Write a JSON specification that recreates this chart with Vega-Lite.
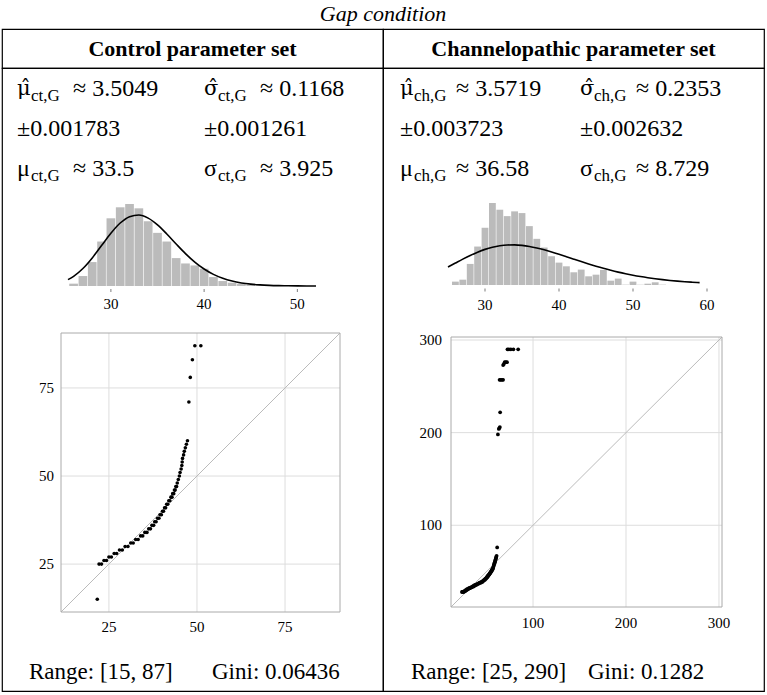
{
  "$schema": "https://vega.github.io/schema/vega-lite/v6.json",
  "padding": {"left": 1, "top": 3, "right": 0, "bottom": 0},
  "background": "white",
  "title": {"text": "Gap condition", "font": "Liberation Serif", "fontStyle": "italic", "fontWeight": "normal", "fontSize": 22, "color": "black", "anchor": "middle", "offset": 2},
  "config": {
    "font": "Liberation Serif",
    "title": {"font": "Liberation Serif"},
    "view": {"stroke": "black", "strokeWidth": 1.2},
    "text": {"font": "Liberation Serif", "color": "black"}
  },
  "datasets": {
    "statsL": [
      {"col": 0, "row": 0, "sym": "", "symh": "\u03bc\u0302", "sub": "ct,G", "rest": "\u2248 3.5049"},
      {"col": 1, "row": 0, "sym": "", "symh": "\u03c3\u0302", "sub": "ct,G", "rest": "\u2248 0.1168"},
      {"col": 0, "row": 1, "sym": "\u00b10.001783", "symh": "", "sub": "", "rest": ""},
      {"col": 1, "row": 1, "sym": "\u00b10.001261", "symh": "", "sub": "", "rest": ""},
      {"col": 0, "row": 2, "sym": "\u03bc", "symh": "", "sub": "ct,G", "rest": "\u2248 33.5"},
      {"col": 1, "row": 2, "sym": "\u03c3", "symh": "", "sub": "ct,G", "rest": "\u2248 3.925"}
    ],
    "statsR": [
      {"col": 0, "row": 0, "sym": "", "symh": "\u03bc\u0302", "sub": "ch,G", "rest": "\u2248 3.5719"},
      {"col": 1, "row": 0, "sym": "", "symh": "\u03c3\u0302", "sub": "ch,G", "rest": "\u2248 0.2353"},
      {"col": 0, "row": 1, "sym": "\u00b10.003723", "symh": "", "sub": "", "rest": ""},
      {"col": 1, "row": 1, "sym": "\u00b10.002632", "symh": "", "sub": "", "rest": ""},
      {"col": 0, "row": 2, "sym": "\u03bc", "symh": "", "sub": "ch,G", "rest": "\u2248 36.58"},
      {"col": 1, "row": 2, "sym": "\u03c3", "symh": "", "sub": "ch,G", "rest": "\u2248 8.729"}
    ],
    "footL": [
      {"col": 0, "row": 0, "t": "Range: [15, 87]"},
      {"col": 1, "row": 0, "t": "Gini: 0.06436"}
    ],
    "footR": [
      {"col": 0, "row": 0, "t": "Range: [25, 290]"},
      {"col": 1, "row": 0, "t": "Gini: 0.1282"}
    ],
    "tickHL": [{"v": 30}, {"v": 40}, {"v": 50}],
    "tickHR": [{"v": 30}, {"v": 40}, {"v": 50}, {"v": 60}],
    "histL": [
      {"v": 26, "d": 0.0034}, {"v": 27, "d": 0.0145}, {"v": 28, "d": 0.0348}, {"v": 29, "d": 0.0647},
      {"v": 30, "d": 0.0985}, {"v": 31, "d": 0.1145}, {"v": 32, "d": 0.1193}, {"v": 33, "d": 0.1130},
      {"v": 34, "d": 0.0942}, {"v": 35, "d": 0.0773}, {"v": 36, "d": 0.0647}, {"v": 37, "d": 0.0406},
      {"v": 38, "d": 0.0328}, {"v": 39, "d": 0.0299}, {"v": 40, "d": 0.0251}, {"v": 41, "d": 0.0130},
      {"v": 42, "d": 0.0072}, {"v": 43, "d": 0.0048}, {"v": 44, "d": 0.0034}, {"v": 45, "d": 0.0019},
      {"v": 46, "d": 0.0010}, {"v": 47, "d": 0.0005}
    ],
    "curveL": [
      {"v": 25.4, "d": 0.00927}, {"v": 26, "d": 0.01409}, {"v": 27, "d": 0.02549}, {"v": 28, "d": 0.04088},
      {"v": 29, "d": 0.05884}, {"v": 30, "d": 0.07677}, {"v": 31, "d": 0.09164}, {"v": 32, "d": 0.10090},
      {"v": 33, "d": 0.10324}, {"v": 34, "d": 0.09878}, {"v": 35, "d": 0.08890}, {"v": 36, "d": 0.07564},
      {"v": 37, "d": 0.06115}, {"v": 38, "d": 0.04715}, {"v": 39, "d": 0.03481}, {"v": 40, "d": 0.02470},
      {"v": 41, "d": 0.01689}, {"v": 42, "d": 0.01116}, {"v": 43, "d": 0.00715}, {"v": 44, "d": 0.00445},
      {"v": 45, "d": 0.00270}, {"v": 46, "d": 0.00159}, {"v": 47, "d": 0.00092}, {"v": 48, "d": 0.00052},
      {"v": 49, "d": 0.00029}, {"v": 50, "d": 0.00016}, {"v": 51, "d": 0.00008}, {"v": 52, "d": 0.00004}
    ],
    "histR": [
      {"v": 26, "d": 0.0041}, {"v": 27, "d": 0.0065}, {"v": 28, "d": 0.0257}, {"v": 29, "d": 0.0469},
      {"v": 30, "d": 0.0698}, {"v": 31, "d": 0.1000}, {"v": 32, "d": 0.0918}, {"v": 33, "d": 0.0840},
      {"v": 34, "d": 0.0898}, {"v": 35, "d": 0.0877}, {"v": 36, "d": 0.0718}, {"v": 37, "d": 0.0563},
      {"v": 38, "d": 0.0457}, {"v": 39, "d": 0.0351}, {"v": 40, "d": 0.0273}, {"v": 41, "d": 0.0228},
      {"v": 42, "d": 0.0155}, {"v": 43, "d": 0.0188}, {"v": 44, "d": 0.0106}, {"v": 45, "d": 0.0126},
      {"v": 46, "d": 0.0184}, {"v": 47, "d": 0.0053}, {"v": 48, "d": 0.0078}, {"v": 49, "d": 0.0004},
      {"v": 50, "d": 0.0041}, {"v": 51, "d": 0.0004}, {"v": 52, "d": 0.0016}, {"v": 53, "d": 0.0033},
      {"v": 54, "d": 0.0004}
    ],
    "curveR": [
      {"v": 25, "d": 0.02201}, {"v": 26, "d": 0.02680}, {"v": 27, "d": 0.03155}, {"v": 28, "d": 0.03604},
      {"v": 29, "d": 0.04006}, {"v": 30, "d": 0.04344}, {"v": 31, "d": 0.04606}, {"v": 32, "d": 0.04786},
      {"v": 33, "d": 0.04881}, {"v": 34, "d": 0.04894}, {"v": 35, "d": 0.04832}, {"v": 36, "d": 0.04704},
      {"v": 37, "d": 0.04520}, {"v": 38, "d": 0.04291}, {"v": 39, "d": 0.04030}, {"v": 40, "d": 0.03746},
      {"v": 41, "d": 0.03450}, {"v": 42, "d": 0.03150}, {"v": 43, "d": 0.02853}, {"v": 44, "d": 0.02565},
      {"v": 45, "d": 0.02291}, {"v": 46, "d": 0.02033}, {"v": 47, "d": 0.01793}, {"v": 48, "d": 0.01573},
      {"v": 49, "d": 0.01373}, {"v": 50, "d": 0.01193}, {"v": 51, "d": 0.01032}, {"v": 52, "d": 0.00889},
      {"v": 53, "d": 0.00763}, {"v": 54, "d": 0.00653}, {"v": 55, "d": 0.00556}, {"v": 56, "d": 0.00473},
      {"v": 57, "d": 0.00401}, {"v": 58, "d": 0.00339}, {"v": 59, "d": 0.00286}
    ],
    "gridL": [{"g": 25}, {"g": 50}, {"g": 75}],
    "gridR": [{"g": 100}, {"g": 200}, {"g": 300}],
    "qqL": [
      {"t": 21.7, "s": 15},
      {"t": 22.2, "s": 25}, {"t": 22.9, "s": 25},
      {"t": 23.6, "s": 26}, {"t": 24.3, "s": 26},
      {"t": 25.0, "s": 27}, {"t": 25.7, "s": 27},
      {"t": 26.5, "s": 28}, {"t": 27.2, "s": 28},
      {"t": 28.0, "s": 29}, {"t": 28.8, "s": 29},
      {"t": 29.6, "s": 30}, {"t": 30.4, "s": 30},
      {"t": 31.2, "s": 31}, {"t": 31.9, "s": 31},
      {"t": 32.6, "s": 32}, {"t": 33.3, "s": 32},
      {"t": 34.0, "s": 33}, {"t": 34.6, "s": 33},
      {"t": 35.2, "s": 34}, {"t": 35.8, "s": 34},
      {"t": 36.3, "s": 35}, {"t": 36.8, "s": 35},
      {"t": 37.2, "s": 36}, {"t": 37.7, "s": 36},
      {"t": 38.0, "s": 37}, {"t": 38.4, "s": 37},
      {"t": 38.8, "s": 38}, {"t": 39.2, "s": 38},
      {"t": 39.5, "s": 39}, {"t": 39.9, "s": 39},
      {"t": 40.2, "s": 40}, {"t": 40.5, "s": 40},
      {"t": 40.8, "s": 41}, {"t": 41.1, "s": 41},
      {"t": 41.4, "s": 42}, {"t": 41.7, "s": 42},
      {"t": 42.0, "s": 43}, {"t": 42.3, "s": 43},
      {"t": 42.6, "s": 44}, {"t": 42.9, "s": 44},
      {"t": 43.1, "s": 45}, {"t": 43.4, "s": 45},
      {"t": 43.6, "s": 46}, {"t": 43.8, "s": 46},
      {"t": 44.0, "s": 47}, {"t": 44.2, "s": 47},
      {"t": 44.4, "s": 48}, {"t": 44.7, "s": 49}, {"t": 45.0, "s": 50}, {"t": 45.2, "s": 51},
      {"t": 45.5, "s": 52}, {"t": 45.7, "s": 53}, {"t": 45.8, "s": 54}, {"t": 45.9, "s": 55},
      {"t": 46.2, "s": 56}, {"t": 46.4, "s": 57}, {"t": 46.7, "s": 58}, {"t": 47.0, "s": 59},
      {"t": 47.3, "s": 60}, {"t": 47.7, "s": 71}, {"t": 48.1, "s": 78}, {"t": 48.7, "s": 83},
      {"t": 49.4, "s": 87}, {"t": 51.1, "s": 87}
    ],
    "qqR": [
      {"t": 23.5, "s": 28}, {"t": 24.2, "s": 28}, {"t": 24.9, "s": 28}, {"t": 25.5, "s": 28},
      {"t": 26.0, "s": 29}, {"t": 26.6, "s": 29}, {"t": 27.2, "s": 29},
      {"t": 27.5, "s": 30}, {"t": 28.1, "s": 30}, {"t": 28.7, "s": 30},
      {"t": 29.0, "s": 31}, {"t": 29.6, "s": 31}, {"t": 30.2, "s": 31},
      {"t": 31.0, "s": 32}, {"t": 31.6, "s": 32}, {"t": 32.2, "s": 32},
      {"t": 33.0, "s": 33}, {"t": 33.6, "s": 33}, {"t": 34.2, "s": 33},
      {"t": 35.0, "s": 34}, {"t": 35.6, "s": 34}, {"t": 36.2, "s": 34},
      {"t": 36.5, "s": 35}, {"t": 37.1, "s": 35}, {"t": 37.7, "s": 35},
      {"t": 38.5, "s": 36}, {"t": 39.1, "s": 36}, {"t": 39.7, "s": 36},
      {"t": 40.5, "s": 37}, {"t": 41.1, "s": 37}, {"t": 41.7, "s": 37},
      {"t": 42.5, "s": 38}, {"t": 43.1, "s": 38}, {"t": 43.7, "s": 38},
      {"t": 44.5, "s": 39}, {"t": 45.1, "s": 39}, {"t": 45.6, "s": 39},
      {"t": 46.0, "s": 40}, {"t": 46.8, "s": 40},
      {"t": 47.3, "s": 41}, {"t": 48.0, "s": 41},
      {"t": 48.5, "s": 42}, {"t": 49.0, "s": 42},
      {"t": 49.5, "s": 43}, {"t": 50.0, "s": 43},
      {"t": 50.3, "s": 44}, {"t": 50.8, "s": 44},
      {"t": 51.0, "s": 45}, {"t": 51.5, "s": 45},
      {"t": 51.8, "s": 46}, {"t": 52.3, "s": 46},
      {"t": 52.6, "s": 47}, {"t": 53.0, "s": 47},
      {"t": 53.3, "s": 48}, {"t": 53.7, "s": 48},
      {"t": 54.0, "s": 49}, {"t": 54.4, "s": 49},
      {"t": 54.7, "s": 50}, {"t": 55.0, "s": 50},
      {"t": 55.3, "s": 51}, {"t": 55.6, "s": 51},
      {"t": 55.9, "s": 52}, {"t": 56.2, "s": 52},
      {"t": 56.5, "s": 53}, {"t": 56.8, "s": 53},
      {"t": 57.0, "s": 54}, {"t": 57.3, "s": 55}, {"t": 57.6, "s": 56}, {"t": 57.9, "s": 57},
      {"t": 58.2, "s": 58}, {"t": 58.5, "s": 59}, {"t": 58.8, "s": 60}, {"t": 59.1, "s": 61},
      {"t": 59.4, "s": 62}, {"t": 59.7, "s": 63}, {"t": 60.0, "s": 64}, {"t": 60.2, "s": 65},
      {"t": 60.5, "s": 66}, {"t": 60.8, "s": 67}, {"t": 61.4, "s": 76},
      {"t": 62.2, "s": 198}, {"t": 63.2, "s": 204}, {"t": 63.8, "s": 205}, {"t": 64.3, "s": 206},
      {"t": 64.6, "s": 222},
      {"t": 64.0, "s": 257}, {"t": 65.3, "s": 257}, {"t": 66.6, "s": 257}, {"t": 67.8, "s": 257},
      {"t": 67.8, "s": 273}, {"t": 68.6, "s": 274},
      {"t": 69.5, "s": 276}, {"t": 70.8, "s": 276}, {"t": 72.0, "s": 276},
      {"t": 72.5, "s": 290}, {"t": 74.0, "s": 290}, {"t": 76.1, "s": 290}, {"t": 78.9, "s": 290}, {"t": 84.0, "s": 290}
    ]
  },
  "columns": 2,
  "spacing": 0,
  "bounds": "flush",
  "concat": [
    {
      "width": 381, "height": 39,
      "view": {"stroke": "black", "strokeWidth": 1.2},
      "data": {"values": [{"h": "Control parameter set"}]},
      "mark": {"type": "text", "fontWeight": "bold", "fontSize": 22, "align": "center", "baseline": "middle"},
      "encoding": {
        "x": {"datum": 0.5, "type": "quantitative", "scale": {"domain": [0, 1]}, "axis": null},
        "y": {"datum": 0.5, "type": "quantitative", "scale": {"domain": [0, 1]}, "axis": null},
        "text": {"field": "h"}
      }
    },
    {
      "width": 381, "height": 39,
      "view": {"stroke": "black", "strokeWidth": 1.2},
      "data": {"values": [{"h": "Channelopathic parameter set"}]},
      "mark": {"type": "text", "fontWeight": "bold", "fontSize": 22, "align": "center", "baseline": "middle"},
      "encoding": {
        "x": {"datum": 0.5, "type": "quantitative", "scale": {"domain": [0, 1]}, "axis": null},
        "y": {"datum": 0.5, "type": "quantitative", "scale": {"domain": [0, 1]}, "axis": null},
        "text": {"field": "h"}
      }
    },
    {
      "width": 381, "height": 623,
      "resolve": {"scale": {"x": "independent", "y": "independent"}},
      "layer": [
        {
          "data": {"name": "statsL"},
          "encoding": {
            "x": {"field": "col", "type": "quantitative", "scale": {"domain": [0, 1], "range": [15, 202], "nice": false, "zero": false}, "axis": null},
            "y": {"field": "row", "type": "quantitative", "scale": {"domain": [0, 2], "range": [21, 101], "nice": false, "zero": false}, "axis": null}
          },
          "layer": [
            {"mark": {"type": "text", "align": "left", "baseline": "middle", "fontSize": 24}, "encoding": {"text": {"field": "sym"}}},
            {"mark": {"type": "text", "align": "left", "baseline": "middle", "fontSize": 21, "font": "DejaVu Serif"}, "encoding": {"text": {"field": "symh"}}},
            {"mark": {"type": "text", "align": "left", "baseline": "middle", "fontSize": 17, "dx": 14, "dy": 7}, "encoding": {"text": {"field": "sub"}}},
            {"mark": {"type": "text", "align": "left", "baseline": "middle", "fontSize": 24, "dx": 56}, "encoding": {"text": {"field": "rest"}}}
          ]
        },
        {
          "layer": [
            {
              "data": {"name": "histL"},
              "mark": {"type": "bar", "orient": "vertical", "size": 8.7, "color": "#bbbbbb"},
              "encoding": {
                "x": {"field": "v", "type": "quantitative", "scale": {"domain": [25.4, 52], "range": [61, 319], "nice": false, "zero": false}, "axis": null},
                "y": {"field": "d", "type": "quantitative", "stack": null, "scale": {"domain": [0, 0.1193], "range": [218, 136], "nice": false, "zero": false}, "axis": null}
              }
            },
            {
              "data": {"name": "curveL"},
              "mark": {"type": "line", "color": "black", "strokeWidth": 1.6, "interpolate": "monotone"},
              "encoding": {
                "x": {"field": "v", "type": "quantitative", "scale": {"domain": [25.4, 52], "range": [61, 319], "nice": false, "zero": false}, "axis": null},
                "y": {"field": "d", "type": "quantitative", "scale": {"domain": [0, 0.1193], "range": [218, 136], "nice": false, "zero": false}, "axis": null}
              }
            },
            {
              "data": {"name": "tickHL"},
              "mark": {"type": "tick", "orient": "vertical", "size": 3, "thickness": 1, "color": "#444444", "yOffset": 4.5},
              "encoding": {
                "x": {"field": "v", "type": "quantitative", "scale": {"domain": [25.4, 52], "range": [61, 319], "nice": false, "zero": false}, "axis": null},
                "y": {"datum": 0, "type": "quantitative", "scale": {"domain": [0, 0.1193], "range": [218, 136], "nice": false, "zero": false}, "axis": null}
              }
            },
            {
              "data": {"name": "tickHL"},
              "mark": {"type": "text", "align": "center", "baseline": "middle", "fontSize": 15, "dy": 18},
              "encoding": {
                "x": {"field": "v", "type": "quantitative", "scale": {"domain": [25.4, 52], "range": [61, 319], "nice": false, "zero": false}, "axis": null},
                "y": {"datum": 0, "type": "quantitative", "scale": {"domain": [0, 0.1193], "range": [218, 136], "nice": false, "zero": false}, "axis": null},
                "text": {"field": "v", "type": "quantitative"}
              }
            }
          ]
        },
        {
          "layer": [
            {
              "data": {"name": "gridL"},
              "mark": {"type": "rule", "color": "#dddddd", "strokeWidth": 1},
              "encoding": {
                "x": {"field": "g", "type": "quantitative", "scale": {"domain": [11.4, 90.6], "range": [59, 338], "nice": false, "zero": false}, "axis": null},
                "y": {"datum": 11.4, "type": "quantitative", "scale": {"domain": [11.4, 90.6], "range": [544, 265], "nice": false, "zero": false}, "axis": null},
                "y2": {"datum": 90.6}
              }
            },
            {
              "data": {"name": "gridL"},
              "mark": {"type": "rule", "color": "#dddddd", "strokeWidth": 1},
              "encoding": {
                "y": {"field": "g", "type": "quantitative", "scale": {"domain": [11.4, 90.6], "range": [544, 265], "nice": false, "zero": false}, "axis": null},
                "x": {"datum": 11.4, "type": "quantitative", "scale": {"domain": [11.4, 90.6], "range": [59, 338], "nice": false, "zero": false}, "axis": null},
                "x2": {"datum": 90.6}
              }
            },
            {
              "data": {"values": [{}]},
              "mark": {"type": "rule", "color": "#bbbbbb", "strokeWidth": 1},
              "encoding": {
                "x": {"datum": 11.4, "type": "quantitative", "scale": {"domain": [11.4, 90.6], "range": [59, 338], "nice": false, "zero": false}, "axis": null},
                "y": {"datum": 11.4, "type": "quantitative", "scale": {"domain": [11.4, 90.6], "range": [544, 265], "nice": false, "zero": false}, "axis": null},
                "x2": {"datum": 90.6},
                "y2": {"datum": 90.6}
              }
            },
            {
              "data": {"values": [{}]},
              "mark": {"type": "rect", "filled": false, "color": "#aaaaaa", "strokeWidth": 1},
              "encoding": {
                "x": {"datum": 11.4, "type": "quantitative", "scale": {"domain": [11.4, 90.6], "range": [59, 338], "nice": false, "zero": false}, "axis": null},
                "y": {"datum": 11.4, "type": "quantitative", "scale": {"domain": [11.4, 90.6], "range": [544, 265], "nice": false, "zero": false}, "axis": null},
                "x2": {"datum": 90.6},
                "y2": {"datum": 90.6}
              }
            },
            {
              "data": {"name": "gridL"},
              "mark": {"type": "text", "align": "center", "baseline": "middle", "fontSize": 15, "dy": 15},
              "encoding": {
                "x": {"field": "g", "type": "quantitative", "scale": {"domain": [11.4, 90.6], "range": [59, 338], "nice": false, "zero": false}, "axis": null},
                "y": {"datum": 11.4, "type": "quantitative", "scale": {"domain": [11.4, 90.6], "range": [544, 265], "nice": false, "zero": false}, "axis": null},
                "text": {"field": "g", "type": "quantitative"}
              }
            },
            {
              "data": {"name": "gridL"},
              "mark": {"type": "text", "align": "right", "baseline": "middle", "fontSize": 15, "dx": -7},
              "encoding": {
                "y": {"field": "g", "type": "quantitative", "scale": {"domain": [11.4, 90.6], "range": [544, 265], "nice": false, "zero": false}, "axis": null},
                "x": {"datum": 11.4, "type": "quantitative", "scale": {"domain": [11.4, 90.6], "range": [59, 338], "nice": false, "zero": false}, "axis": null},
                "text": {"field": "g", "type": "quantitative"}
              }
            },
            {
              "data": {"name": "qqL"},
              "mark": {"type": "circle", "size": 13, "color": "black", "opacity": 1},
              "encoding": {
                "x": {"field": "t", "type": "quantitative", "scale": {"domain": [11.4, 90.6], "range": [59, 338], "nice": false, "zero": false}, "axis": null},
                "y": {"field": "s", "type": "quantitative", "scale": {"domain": [11.4, 90.6], "range": [544, 265], "nice": false, "zero": false}, "axis": null}
              }
            }
          ]
        },
        {
          "data": {"name": "footL"},
          "mark": {"type": "text", "align": "left", "baseline": "middle", "fontSize": 23},
          "encoding": {
            "x": {"field": "col", "type": "quantitative", "scale": {"domain": [0, 1], "range": [27, 210], "nice": false, "zero": false}, "axis": null},
            "y": {"field": "row", "type": "quantitative", "scale": {"domain": [0, 1], "range": [604, 640], "nice": false, "zero": false}, "axis": null},
            "text": {"field": "t"}
          }
        }
      ]
    },
    {
      "width": 381, "height": 623,
      "resolve": {"scale": {"x": "independent", "y": "independent"}},
      "layer": [
        {
          "data": {"name": "statsR"},
          "encoding": {
            "x": {"field": "col", "type": "quantitative", "scale": {"domain": [0, 1], "range": [17, 197], "nice": false, "zero": false}, "axis": null},
            "y": {"field": "row", "type": "quantitative", "scale": {"domain": [0, 2], "range": [21, 101], "nice": false, "zero": false}, "axis": null}
          },
          "layer": [
            {"mark": {"type": "text", "align": "left", "baseline": "middle", "fontSize": 24}, "encoding": {"text": {"field": "sym"}}},
            {"mark": {"type": "text", "align": "left", "baseline": "middle", "fontSize": 21, "font": "DejaVu Serif"}, "encoding": {"text": {"field": "symh"}}},
            {"mark": {"type": "text", "align": "left", "baseline": "middle", "fontSize": 17, "dx": 14, "dy": 7}, "encoding": {"text": {"field": "sub"}}},
            {"mark": {"type": "text", "align": "left", "baseline": "middle", "fontSize": 24, "dx": 56}, "encoding": {"text": {"field": "rest"}}}
          ]
        },
        {
          "layer": [
            {
              "data": {"name": "histR"},
              "mark": {"type": "bar", "orient": "vertical", "size": 6.8, "color": "#bbbbbb"},
              "encoding": {
                "x": {"field": "v", "type": "quantitative", "scale": {"domain": [25, 60], "range": [60, 329], "nice": false, "zero": false}, "axis": null},
                "y": {"field": "d", "type": "quantitative", "stack": null, "scale": {"domain": [0, 0.1], "range": [217, 135], "nice": false, "zero": false}, "axis": null}
              }
            },
            {
              "data": {"name": "curveR"},
              "mark": {"type": "line", "color": "black", "strokeWidth": 1.6, "interpolate": "monotone"},
              "encoding": {
                "x": {"field": "v", "type": "quantitative", "scale": {"domain": [25, 60], "range": [60, 329], "nice": false, "zero": false}, "axis": null},
                "y": {"field": "d", "type": "quantitative", "scale": {"domain": [0, 0.1], "range": [217, 135], "nice": false, "zero": false}, "axis": null}
              }
            },
            {
              "data": {"name": "tickHR"},
              "mark": {"type": "tick", "orient": "vertical", "size": 3, "thickness": 1, "color": "#444444", "yOffset": 5},
              "encoding": {
                "x": {"field": "v", "type": "quantitative", "scale": {"domain": [25, 60], "range": [60, 329], "nice": false, "zero": false}, "axis": null},
                "y": {"datum": 0, "type": "quantitative", "scale": {"domain": [0, 0.1], "range": [217, 135], "nice": false, "zero": false}, "axis": null}
              }
            },
            {
              "data": {"name": "tickHR"},
              "mark": {"type": "text", "align": "center", "baseline": "middle", "fontSize": 15, "dy": 20},
              "encoding": {
                "x": {"field": "v", "type": "quantitative", "scale": {"domain": [25, 60], "range": [60, 329], "nice": false, "zero": false}, "axis": null},
                "y": {"datum": 0, "type": "quantitative", "scale": {"domain": [0, 0.1], "range": [217, 135], "nice": false, "zero": false}, "axis": null},
                "text": {"field": "v", "type": "quantitative"}
              }
            }
          ]
        },
        {
          "layer": [
            {
              "data": {"name": "gridR"},
              "mark": {"type": "rule", "color": "#dddddd", "strokeWidth": 1},
              "encoding": {
                "x": {"field": "g", "type": "quantitative", "scale": {"domain": [11.75, 303.25], "range": [68, 339], "nice": false, "zero": false}, "axis": null},
                "y": {"datum": 11.75, "type": "quantitative", "scale": {"domain": [11.75, 303.25], "range": [539, 269], "nice": false, "zero": false}, "axis": null},
                "y2": {"datum": 303.25}
              }
            },
            {
              "data": {"name": "gridR"},
              "mark": {"type": "rule", "color": "#dddddd", "strokeWidth": 1},
              "encoding": {
                "y": {"field": "g", "type": "quantitative", "scale": {"domain": [11.75, 303.25], "range": [539, 269], "nice": false, "zero": false}, "axis": null},
                "x": {"datum": 11.75, "type": "quantitative", "scale": {"domain": [11.75, 303.25], "range": [68, 339], "nice": false, "zero": false}, "axis": null},
                "x2": {"datum": 303.25}
              }
            },
            {
              "data": {"values": [{}]},
              "mark": {"type": "rule", "color": "#bbbbbb", "strokeWidth": 1},
              "encoding": {
                "x": {"datum": 11.75, "type": "quantitative", "scale": {"domain": [11.75, 303.25], "range": [68, 339], "nice": false, "zero": false}, "axis": null},
                "y": {"datum": 11.75, "type": "quantitative", "scale": {"domain": [11.75, 303.25], "range": [539, 269], "nice": false, "zero": false}, "axis": null},
                "x2": {"datum": 303.25},
                "y2": {"datum": 303.25}
              }
            },
            {
              "data": {"values": [{}]},
              "mark": {"type": "rect", "filled": false, "color": "#aaaaaa", "strokeWidth": 1},
              "encoding": {
                "x": {"datum": 11.75, "type": "quantitative", "scale": {"domain": [11.75, 303.25], "range": [68, 339], "nice": false, "zero": false}, "axis": null},
                "y": {"datum": 11.75, "type": "quantitative", "scale": {"domain": [11.75, 303.25], "range": [539, 269], "nice": false, "zero": false}, "axis": null},
                "x2": {"datum": 303.25},
                "y2": {"datum": 303.25}
              }
            },
            {
              "data": {"name": "gridR"},
              "mark": {"type": "text", "align": "center", "baseline": "middle", "fontSize": 15, "dy": 16},
              "encoding": {
                "x": {"field": "g", "type": "quantitative", "scale": {"domain": [11.75, 303.25], "range": [68, 339], "nice": false, "zero": false}, "axis": null},
                "y": {"datum": 11.75, "type": "quantitative", "scale": {"domain": [11.75, 303.25], "range": [539, 269], "nice": false, "zero": false}, "axis": null},
                "text": {"field": "g", "type": "quantitative"}
              }
            },
            {
              "data": {"name": "gridR"},
              "mark": {"type": "text", "align": "right", "baseline": "middle", "fontSize": 15, "dx": -9},
              "encoding": {
                "y": {"field": "g", "type": "quantitative", "scale": {"domain": [11.75, 303.25], "range": [539, 269], "nice": false, "zero": false}, "axis": null},
                "x": {"datum": 11.75, "type": "quantitative", "scale": {"domain": [11.75, 303.25], "range": [68, 339], "nice": false, "zero": false}, "axis": null},
                "text": {"field": "g", "type": "quantitative"}
              }
            },
            {
              "data": {"name": "qqR"},
              "mark": {"type": "circle", "size": 14, "color": "black", "opacity": 1},
              "encoding": {
                "x": {"field": "t", "type": "quantitative", "scale": {"domain": [11.75, 303.25], "range": [68, 339], "nice": false, "zero": false}, "axis": null},
                "y": {"field": "s", "type": "quantitative", "scale": {"domain": [11.75, 303.25], "range": [539, 269], "nice": false, "zero": false}, "axis": null}
              }
            }
          ]
        },
        {
          "data": {"name": "footR"},
          "mark": {"type": "text", "align": "left", "baseline": "middle", "fontSize": 23},
          "encoding": {
            "x": {"field": "col", "type": "quantitative", "scale": {"domain": [0, 1], "range": [28, 205], "nice": false, "zero": false}, "axis": null},
            "y": {"field": "row", "type": "quantitative", "scale": {"domain": [0, 1], "range": [604, 640], "nice": false, "zero": false}, "axis": null},
            "text": {"field": "t"}
          }
        }
      ]
    }
  ]
}
